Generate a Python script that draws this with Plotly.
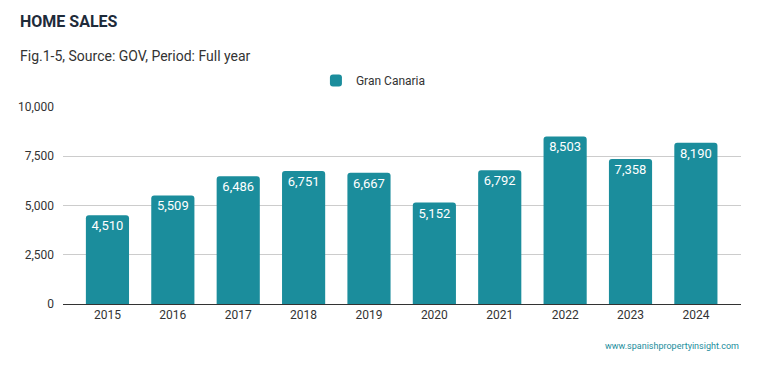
import plotly.graph_objects as go

years = ["2015", "2016", "2017", "2018", "2019", "2020", "2021", "2022", "2023", "2024"]
sales = [4510, 5509, 6486, 6751, 6667, 5152, 6792, 8503, 7358, 8190]
tick_vals = [0, 2500, 5000, 7500, 10000]
tick_text = ["0", "2,500", "5,000", "7,500", "10,000"]

color = "#1b8d9c"
fig = go.Figure()
fig.add_trace(go.Bar(
    x=years, y=sales, name="Gran Canaria",
    marker=dict(color=color, line=dict(width=0)),
    text=[f"{v:,}" for v in sales],
    textposition="inside", insidetextanchor="end",
    textfont=dict(color="white", size=13, family="Roboto"),
    cliponaxis=False,
))
fig.update_layout(
    width=759, height=371,
    margin=dict(l=63, r=18, t=107, b=67, autoexpand=False),
    paper_bgcolor="white", plot_bgcolor="white",
    font=dict(family="Roboto", color="#333333", size=12),
    bargap=0.34, barcornerradius=3,
    showlegend=True,
    legend=dict(orientation="h", xref="container", x=0.492, xanchor="center", y=1.134, yanchor="middle",
                font=dict(size=12, color="#333333"), itemsizing="constant", itemwidth=30),
    xaxis=dict(type="category", range=[-0.68, 9.69], showgrid=False, automargin=False,
               showline=True, linecolor="#333333", linewidth=1,
               tickfont=dict(size=12, color="#333333"), ticks=""),
    yaxis=dict(range=[0, 10000], tickvals=tick_vals, ticktext=tick_text, automargin=False,
               showgrid=True, gridcolor="#cccccc", zeroline=False,
               tickfont=dict(size=12, color="#333333"), ticks="", ticklabelstandoff=8),
)
fig.add_annotation(text="<b>HOME SALES</b>", xref="paper", yref="paper",
                   x=-0.067, y=1.0, xanchor="left", yanchor="top",
                   yshift=97, showarrow=False, font=dict(size=16, color="#1e2b3a", family="Roboto"))
fig.add_annotation(text="Fig.1-5, Source: GOV, Period: Full year", xref="paper", yref="paper",
                   x=-0.067, y=1.0, xanchor="left", yanchor="top",
                   yshift=61, showarrow=False, font=dict(size=14, color="#333333", family="Roboto"))
fig.add_annotation(text="www.spanishpropertyinsight.com", xref="paper", yref="paper",
                   x=1.0, y=0, xanchor="right", yanchor="top",
                   yshift=-35, showarrow=False, font=dict(size=9, color="#1b8d9c", family="Roboto"))
fig.write_html("out.html", config={"displayModeBar": False},
               post_script="document.body.style.margin='0';")
